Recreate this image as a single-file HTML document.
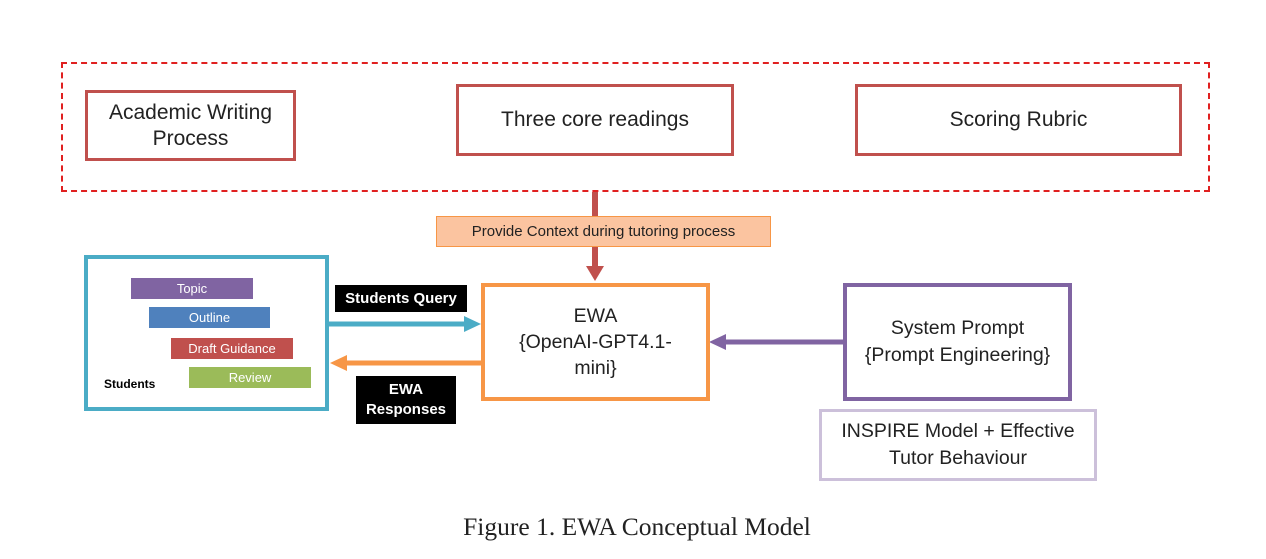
<!DOCTYPE html>
<html><head><style>
body{margin:0;width:1266px;height:559px;background:#fff;position:relative;font-family:"Liberation Sans",sans-serif;overflow:hidden}
.a{position:absolute;box-sizing:border-box;display:flex;align-items:center;justify-content:center;text-align:center}
.bar{position:absolute;height:21px;color:#fff;font-size:13px;display:flex;align-items:center;justify-content:center}
</style></head><body>
<div class="a" style="left:61px;top:62px;width:1149px;height:130px;border:2px dashed #e02020"></div>
<div class="a" style="left:85px;top:90px;width:211px;height:71px;border:3px solid #c0504d;font-size:21px;line-height:26px;color:#222">Academic Writing<br>Process</div>
<div class="a" style="left:456px;top:84px;width:278px;height:72px;border:3px solid #c0504d;font-size:21px;color:#222">Three core readings</div>
<div class="a" style="left:855px;top:84px;width:327px;height:72px;border:3px solid #c0504d;font-size:21px;color:#222">Scoring Rubric</div>
<div class="a" style="left:436px;top:216px;width:335px;height:31px;background:#fbc4a0;border:1px solid #f79646;font-size:15px;color:#222">Provide Context during tutoring process</div>
<svg style="position:absolute;left:0;top:0" width="1266" height="559">
<line x1="595" y1="192" x2="595" y2="216" stroke="#c0504d" stroke-width="6"/>
<line x1="595" y1="247" x2="595" y2="268" stroke="#c0504d" stroke-width="6"/>
<polygon points="586,266 604,266 595,281" fill="#c0504d"/>
<line x1="328" y1="324" x2="466" y2="324" stroke="#4bacc6" stroke-width="5"/>
<polygon points="464,316 481,324 464,332" fill="#4bacc6"/>
<line x1="481" y1="363" x2="346" y2="363" stroke="#f79646" stroke-width="5"/>
<polygon points="347,355 330,363 347,371" fill="#f79646"/>
<line x1="843" y1="342" x2="724" y2="342" stroke="#8064a2" stroke-width="5"/>
<polygon points="726,334 709,342 726,350" fill="#8064a2"/>
</svg>
<div class="a" style="left:84px;top:255px;width:245px;height:156px;border:4px solid #4bacc6"></div>
<div class="bar" style="left:131px;top:278px;width:122px;background:#8064a2">Topic</div>
<div class="bar" style="left:149px;top:307px;width:121px;background:#4f81bd">Outline</div>
<div class="bar" style="left:171px;top:338px;width:122px;background:#c0504d">Draft Guidance</div>
<div class="bar" style="left:189px;top:367px;width:122px;background:#9bbb59">Review</div>
<div style="position:absolute;left:104px;top:377px;font-size:12px;font-weight:bold">Students</div>
<div class="a" style="left:335px;top:285px;width:132px;height:27px;background:#000;color:#fff;font-weight:bold;font-size:15px">Students Query</div>
<div class="a" style="left:356px;top:376px;width:100px;height:48px;background:#000;color:#fff;font-weight:bold;font-size:15px;line-height:20px">EWA<br>Responses</div>
<div class="a" style="left:481px;top:283px;width:229px;height:118px;border:4px solid #f79646;font-size:19.5px;line-height:26px;color:#222">EWA<br>{OpenAI-GPT4.1-<br>mini}</div>
<div class="a" style="left:843px;top:283px;width:229px;height:118px;border:4px solid #8064a2;font-size:19.5px;line-height:27px;color:#222">System Prompt<br>{Prompt Engineering}</div>
<div class="a" style="left:819px;top:409px;width:278px;height:72px;border:3px solid #ccc0da;font-size:19.5px;line-height:27px;color:#222">INSPIRE Model + Effective<br>Tutor Behaviour</div>
<div style="position:absolute;left:0;width:1266px;top:512px;text-align:center;font-family:'Liberation Serif',serif;font-size:25.5px;color:#222;padding-left:4px">Figure 1. EWA Conceptual Model</div>
</body></html>
